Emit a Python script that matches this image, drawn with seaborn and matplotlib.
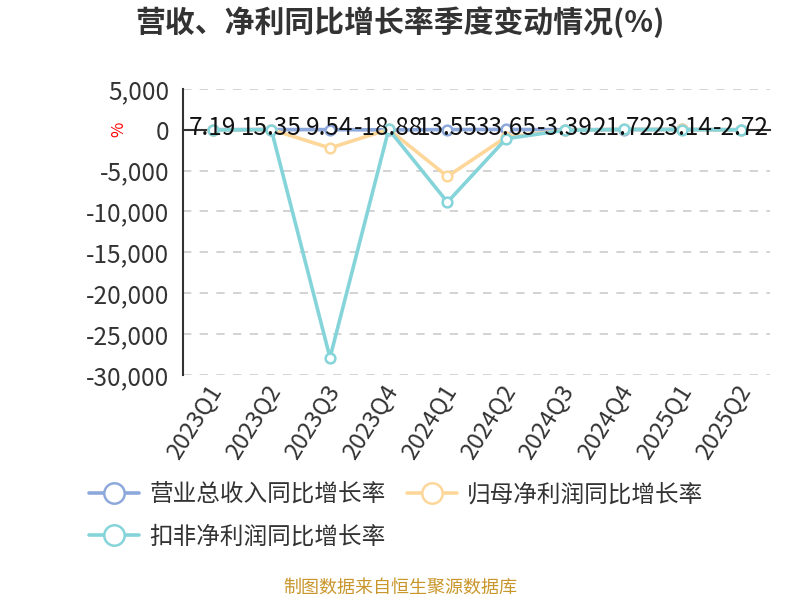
import numpy as np
import pandas as pd
import seaborn as sns
import matplotlib.pyplot as plt
from matplotlib.ticker import FuncFormatter, FixedLocator

quarters = ['2023Q1', '2023Q2', '2023Q3', '2023Q4', '2024Q1',
            '2024Q2', '2024Q3', '2024Q4', '2025Q1', '2025Q2']
revenue = [7.19, 15.35, 9.54, -18.88, 13.55, 33.65, -3.39, 21.72, 23.14, -2.72]
net_profit = [-30, 20, -2240, 40, -5720, -900, -60, 30, 25, -15]
deducted = [-40, 15, -27880, 35, -8860, -1100, -70, 25, 20, -20]

names = ['营业总收入同比增长率', '归母净利润同比增长率', '扣非净利润同比增长率']
colors = ['#8DA9DB', '#FDD79A', '#84D4D9']

sns.set_style('white')
plt.rcParams['font.family'] = ['Noto Sans CJK SC', 'DejaVu Sans']

df = pd.DataFrame({'x': np.arange(len(quarters)),
                   names[0]: revenue, names[1]: net_profit, names[2]: deducted})
long = df.melt(id_vars='x', var_name='series', value_name='value')

fig = plt.figure(figsize=(8, 6), dpi=100)
ax = fig.add_axes([0.229, 0.375, 0.734, 0.477])

for k, name in enumerate(names):
    sns.lineplot(data=long[long['series'] == name], x='x', y='value', ax=ax,
                 color=colors[k], linewidth=2.6, marker='o', markersize=7,
                 markerfacecolor='white', markeredgecolor=colors[k],
                 markeredgewidth=1.8, label=name, zorder=3 + k)

ax.set_xlim(-0.5, len(quarters) - 0.5)
ax.set_ylim(-30000, 5000)
ax.set_yticks(np.arange(-30000, 5001, 5000))
ax.yaxis.set_major_formatter(FuncFormatter(lambda v, p: f'{int(v):,}'))
ax.tick_params(axis='y', labelsize=17.5, colors='#333333', length=6,
               width=1.5, labelcolor='#333333', pad=4, direction='out')
for t in ax.get_yticks():
    ax.axhline(t, color='#cccccc', lw=1.2, ls=(0, (5, 5)), zorder=1)

# x axis line through zero with boundary ticks
ax.spines['bottom'].set_position(('data', 0))
ax.spines['bottom'].set_color('#333333')
ax.spines['bottom'].set_linewidth(1.5)
ax.spines['bottom'].set_zorder(2)
ax.xaxis.set_major_locator(FixedLocator(np.arange(-0.5, len(quarters), 1.0)))
ax.tick_params(axis='x', length=6, width=1.5, colors='#333333',
               labelbottom=False, direction='out')
for s in ['top', 'right']:
    ax.spines[s].set_visible(False)
ax.spines['left'].set_color('#333333')
ax.spines['left'].set_linewidth(1.5)
ax.set_xlabel('')
ax.set_ylabel('')

sec = ax.secondary_xaxis('bottom')
sec.set_xticks(np.arange(len(quarters)) - 0.1)
sec.set_xticklabels(quarters, rotation=58, ha='right', va='top',
                    rotation_mode='anchor', fontsize=17, color='#333333')
sec.tick_params(length=0, pad=4)
sec.spines['bottom'].set_visible(False)

for i, v in enumerate(revenue):
    ax.annotate(f'{v:.2f}', (i, v), xytext=(0, 1), textcoords='offset points',
                ha='center', va='center', fontsize=17.5, color='#111111', zorder=10)

ax.text(-0.11, 0.857, '%', transform=ax.transAxes, rotation=90, color='red',
        fontsize=12, ha='center', va='center')

h, l = ax.get_legend_handles_labels()
leg = fig.legend([h[0], h[2], h[1]], [l[0], l[2], l[1]], ncol=2,
                 loc='upper left', bbox_to_anchor=(0.1, 0.21),
                 frameon=False, fontsize=17, handlelength=2.1,
                 markerscale=2.1, labelspacing=0.8, columnspacing=0.9,
                 handletextpad=0.45, borderaxespad=0)
for t in leg.get_texts():
    t.set_color('#333333')
ax.get_legend().remove()

fig.text(0.5, 0.963, '营收、净利同比增长率季度变动情况(%)', ha='center', va='center',
         fontsize=21.5, fontweight='bold', color='#333333')
fig.text(0.5, 0.02, '制图数据来自恒生聚源数据库', ha='center', va='center',
         fontsize=13, color='#C9962B')

fig.savefig('out.png', dpi=100)
